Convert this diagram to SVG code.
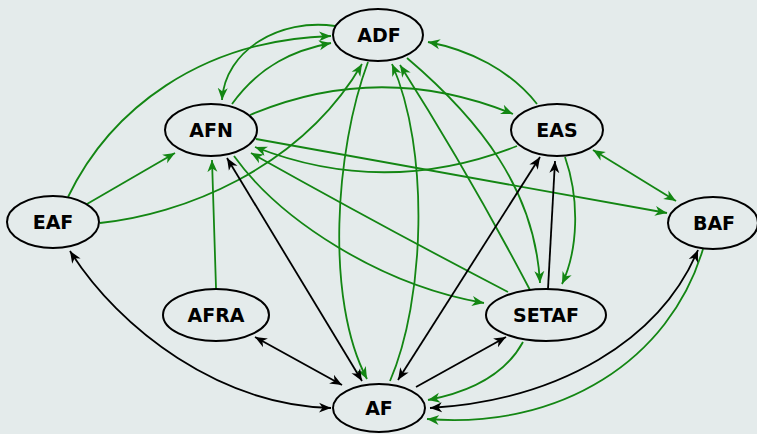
<svg xmlns="http://www.w3.org/2000/svg" width="757" height="434" viewBox="0 0 757 434">
  <style>
    .node ellipse { fill: none; stroke: #000; stroke-width: 2; }
    .node text { font-family: "DejaVu Sans", "Liberation Sans", sans-serif; font-weight: bold; font-size: 19px; text-anchor: middle; fill: #000; }
    .e { fill: none; stroke-width: 1.8; }
    .g { stroke: #138613; marker-end: url(#ag); }
    .g2 { stroke: #138613; marker-start: url(#ag); marker-end: url(#ag); }
    .k { stroke: #000; marker-end: url(#ak); }
    .k2 { stroke: #000; marker-start: url(#ak); marker-end: url(#ak); }
  </style>
  <defs>
    <marker id="ag" markerUnits="userSpaceOnUse" markerWidth="13" markerHeight="12" refX="12" refY="6" orient="auto-start-reverse">
      <path d="M0,1 L12,6 L0,11 L3.5,6 Z" fill="#138613"/>
    </marker>
    <marker id="ak" markerUnits="userSpaceOnUse" markerWidth="13" markerHeight="12" refX="12" refY="6" orient="auto-start-reverse">
      <path d="M0,1 L12,6 L0,11 L3.5,6 Z" fill="#000"/>
    </marker>
  </defs>
  <rect width="757" height="434" fill="#e4ebeb"/>

  <g id="connectors">
    <!-- green edges -->
    <path class="e g" d="M68,197 C110,110 200,40 331,36"/>
    <path class="e g" d="M335,26 C280,18 225,50 222,100"/>
    <path class="e g" d="M232,104 C260,65 295,50 331,43"/>
    <path class="e g" d="M87,204 L175,153"/>
    <path class="e g" d="M100,223 C180,215 300,170 362,64"/>
    <path class="e g" d="M216,288 L212,160"/>
    <path class="e g" d="M250,115 Q380,60 513,114"/>
    <path class="e g" d="M517,146 Q385,198 255,147"/>
    <path class="e g" d="M256,139 L667,213"/>
    <path class="e g" d="M508,292 Q385,228 251,153"/>
    <path class="e g" d="M234,156 C280,220 380,285 484,303"/>
    <path class="e g" d="M368,62 C335,150 325,300 367,379"/>
    <path class="e g" d="M390,381 C425,300 430,150 392,64"/>
    <path class="e g" d="M530,290 Q468,172 400,65"/>
    <path class="e g" d="M407,58 C480,120 535,190 540,283"/>
    <path class="e g" d="M537,104 C510,70 470,50 428,42"/>
    <path class="e g" d="M565,157 C580,200 578,250 562,284"/>
    <path class="e g2" d="M593,150 L676,201"/>
    <path class="e g" d="M703,249 C670,360 560,430 427,419"/>
    <path class="e g" d="M523,342 C505,375 470,392 428,400"/>
    <!-- black edges -->
    <path class="e k2" d="M70,251 C120,330 220,405 331,408"/>
    <path class="e k2" d="M255,337 L342,385"/>
    <path class="e k2" d="M227,158 L362,381"/>
    <path class="e k2" d="M398,380 L540,157"/>
    <path class="e k" d="M416,387 L506,337"/>
    <path class="e k" d="M548,289 L555,161"/>
    <path class="e k2" d="M698,250 C660,340 560,400 430,408"/>
  </g>

  <g id="ADF" class="node"><ellipse cx="378" cy="35" rx="45" ry="26"/><text x="379" y="42">ADF</text></g>
  <g id="AFN" class="node"><ellipse cx="211" cy="130" rx="46" ry="26"/><text x="211" y="137">AFN</text></g>
  <g id="EAS" class="node"><ellipse cx="557" cy="130" rx="46" ry="26"/><text x="557" y="137">EAS</text></g>
  <g id="EAF" class="node"><ellipse cx="53" cy="222" rx="46" ry="26"/><text x="53" y="229">EAF</text></g>
  <g id="BAF" class="node"><ellipse cx="713" cy="223" rx="45" ry="26"/><text x="714" y="230">BAF</text></g>
  <g id="AFRA" class="node"><ellipse cx="216" cy="315" rx="53" ry="26"/><text x="216" y="322">AFRA</text></g>
  <g id="SETAF" class="node"><ellipse cx="546" cy="315" rx="60" ry="26"/><text x="546" y="322">SETAF</text></g>
  <g id="AF" class="node"><ellipse cx="379" cy="408" rx="46" ry="24"/><text x="379" y="415">AF</text></g>
</svg>
